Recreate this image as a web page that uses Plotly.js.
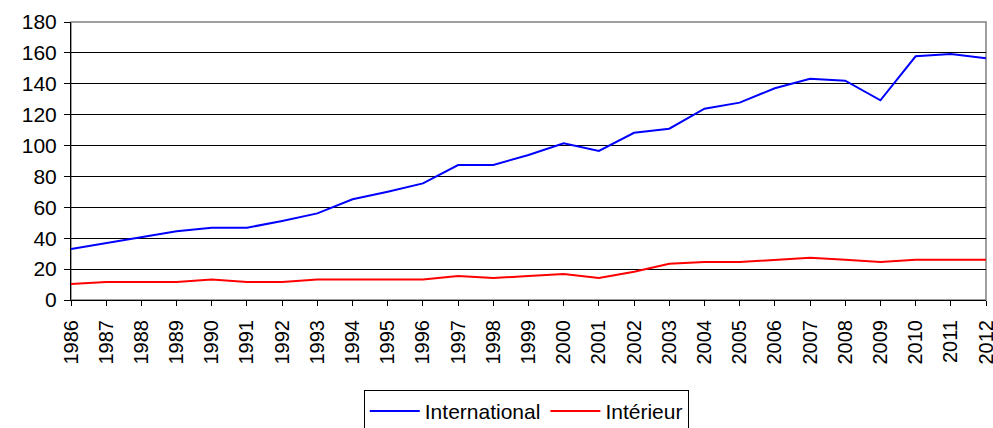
<!DOCTYPE html>
<html>
<head>
<meta charset="utf-8">
<script src="https://cdn.plot.ly/plotly-3.0.1.min.js"></script>
<style>html,body{margin:0;padding:0;background:#fff;}#chart{width:993px;height:428px;}</style>
</head>
<body>
<div id="chart"></div>
<script>
const years = ["1986","1987","1988","1989","1990","1991","1992","1993","1994","1995","1996","1997","1998","1999","2000","2001","2002","2003","2004","2005","2006","2007","2008","2009","2010","2011","2012"];
const international = [33, 36.7, 40.6, 44.5, 46.8, 46.8, 51.2, 56.1, 65.2, 70.1, 75.5, 87.4, 87.4, 93.9, 101.4, 96.5, 108.3, 110.9, 123.9, 127.8, 137.1, 143.3, 142, 129.3, 157.8, 159.3, 156.5];
const interieur = [10.4, 11.7, 11.7, 11.7, 13.2, 11.7, 11.7, 13.2, 13.2, 13.2, 13.2, 15.5, 14.2, 15.5, 16.8, 14.2, 18.3, 23.5, 24.6, 24.6, 26.1, 27.4, 26.1, 24.6, 26.1, 26.1, 26.1];
const seriesNames = ["International", "Intérieur"];

const font = {family: "Liberation Sans, Arial, sans-serif", size: 20, color: "#000"};

const traces = [
  {x: years, y: international, name: seriesNames[0], type: "scatter", mode: "lines", line: {color: "#0000FF", width: 2}},
  {x: years, y: interieur, name: seriesNames[1], type: "scatter", mode: "lines", line: {color: "#FF0000", width: 2}}
];

const layout = {
  width: 993, height: 428,
  margin: {l: 71, r: 7, t: 22, b: 128},
  paper_bgcolor: "#fff", plot_bgcolor: "#fff",
  font: font,
  showlegend: true,
  legend: {
    orientation: "h", xref: "container", yref: "container",
    x: 0.53, xanchor: "center", y: 0.089, yanchor: "top",
    bordercolor: "#000", borderwidth: 1, font: {family: font.family, size: 21, color: "#000"},
    itemwidth: 50, tracegroupgap: 0
  },
  xaxis: {
    type: "category", range: [0, 26], showgrid: false, zeroline: false,
    showline: true, linecolor: "#000", linewidth: 1,
    ticks: "outside", ticklen: 5, tickcolor: "#000", tickwidth: 1,
    tickangle: -90, tickfont: {family: font.family, size: 20, color: "#000"},
    ticklabelstandoff: 6,
    fixedrange: true
  },
  yaxis: {
    range: [0, 180], dtick: 20, tick0: 0, showgrid: true, gridcolor: "#000", gridwidth: 1,
    zeroline: false, showline: true, linecolor: "#000", linewidth: 1,
    ticks: "outside", ticklen: 6, tickcolor: "#000", tickwidth: 1,
    tickfont: {family: font.family, size: 21, color: "#000"},
    ticklabelstandoff: 3,
    fixedrange: true
  },
  shapes: [
    {type: "rect", xref: "paper", yref: "paper", x0: 0, x1: 1, y0: 0, y1: 1,
     line: {color: "#808080", width: 1.5}, layer: "between"}
  ]
};

Plotly.newPlot("chart", traces, layout, {displayModeBar: false, staticPlot: true});
</script>
</body>
</html>
